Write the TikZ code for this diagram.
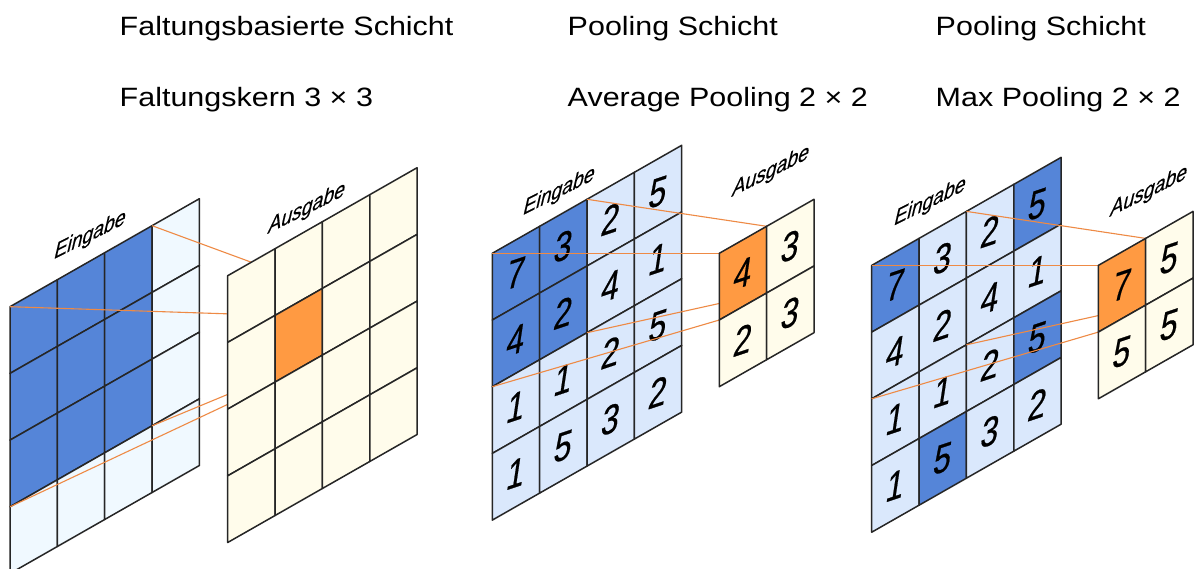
\documentclass[tikz,border=0pt]{standalone}
\usepackage{fontspec}
\setmainfont{Liberation Sans}
\newfontfamily\digitfont[FakeBold=0.6]{Liberation Sans}
\newfontfamily\labelfont[FakeBold=0.35]{Liberation Sans}
\definecolor{gridline}{HTML}{262626}
\definecolor{kernelblue}{HTML}{5585D8}
\definecolor{inpale}{HTML}{F0F9FF}
\definecolor{inlight}{HTML}{DAE8FC}
\definecolor{outcream}{HTML}{FFFCEB}
\definecolor{hotorange}{HTML}{FF9A42}
\definecolor{linkorange}{HTML}{EE8A45}
% cell geometry: width, height, rise per column
\def\cw{47.35}
\def\ch{66.7}
\def\cd{27}
% one skewed cell of a grid whose top-left corner is (#1,#2): column #3, row #4, fill #5
\newcommand\skewcell[5]{%
  \filldraw[gridcell, fill=#5] ({#1+(#3)*\cw},{#2+(#4)*\ch-(#3)*\cd})
    -- ++(\cw,-\cd) -- ++(0,\ch) -- ++(-\cw,\cd) -- cycle;}
% named corner point of a grid
\newcommand\gridpt[5]{\coordinate (#1) at ({#2+(#4)*\cw},{#3+(#5)*\ch-(#4)*\cd});}
% number in the centre of a cell
\newcommand\cellnum[6]{\node[digit] (#1) at ({#2+(#4+0.5)*\cw},{#3+(#5+0.5)*\ch-(#4+0.5)*\cd}) {#6};}
\tikzset{
  gridcell/.style={draw=gridline, line width=1.5pt, line join=round},
  link/.style={draw=linkorange, line width=1.1pt},
  title/.style={anchor=base west, inner sep=0pt, xscale=1.15, font=\fontsize{26.5}{31}\selectfont},
  layerlabel/.style={anchor=base west, inner sep=0pt, cm={0.9,0.45,0.26,1.12,(0,0)}, font=\labelfont\fontsize{21.5}{25}\selectfont},
  digit/.style={inner sep=0pt, cm={0.9,0.3,0.18,1.2,(0,0)}, font=\digitfont\fontsize{35}{40}\selectfont},
}
\begin{document}
\begin{tikzpicture}[x=1pt, y=-1pt]
\useasboundingbox (0,0) rectangle (1198,569);
\fill[white] (0,0) rectangle (1198,569);
\clip (0,0) rectangle (1198,569);

% ---------- titles ----------
\node[title] (t1) at (119.5,36) {Faltungsbasierte Schicht};
\node[title] (t2) at (119.5,106.5) {Faltungskern 3 × 3};
\node[title] (t3) at (567.5,36) {Pooling Schicht};
\node[title] (t4) at (567.5,106.5) {Average Pooling 2 × 2};
\node[title] (t5) at (935.5,36) {Pooling Schicht};
\node[title] (t6) at (935.5,106.5) {Max Pooling 2 × 2};

% ---------- convolution layer ----------
\def\ax{10}\def\ay{306.7}
\def\bx{227.7}\def\by{275.7}
\foreach \i in {0,...,3} \foreach \j in {0,...,3} {
  \pgfmathsetmacro\inwin{(\i<3 && \j<3) ? 1 : 0}
  \ifdim\inwin pt>0.5pt \skewcell{\ax}{\ay}{\i}{\j}{kernelblue}
  \else \skewcell{\ax}{\ay}{\i}{\j}{inpale}\fi
}
\gridpt{cA}{\ax}{\ay}{0}{0}
\gridpt{cB}{\ax}{\ay}{3}{0}
\gridpt{cC}{\ax}{\ay}{0}{3}
\gridpt{cD}{\ax}{\ay}{3}{3}
\gridpt{oA}{\bx}{\by}{1}{1}
\gridpt{oB}{\bx}{\by}{2}{1}
\gridpt{oC}{\bx}{\by}{1}{2}
\gridpt{oD}{\bx}{\by}{2}{2}
\draw[link] (cA) -- (oA);
\draw[link] (cB) -- (oB);
\draw[link] (cC) -- (oC);
\draw[link] (cD) -- (oD);
\foreach \i in {0,...,3} \foreach \j in {0,...,3} {
  \pgfmathsetmacro\hot{(\i==1 && \j==1) ? 1 : 0}
  \ifdim\hot pt>0.5pt \skewcell{\bx}{\by}{\i}{\j}{hotorange}
  \else \skewcell{\bx}{\by}{\i}{\j}{outcream}\fi
}
\node[layerlabel] (in1) at (53,259.5) {Eingabe};
\node[layerlabel] (out1) at (267,234) {Ausgabe};

% ---------- average pooling ----------
\def\ax{492.3}\def\ay{253.3}
\def\bx{719.3}\def\by{253.3}
\foreach \i in {0,...,3} \foreach \j in {0,...,3} {
  \pgfmathsetmacro\inwin{(\i<2 && \j<2) ? 1 : 0}
  \ifdim\inwin pt>0.5pt \skewcell{\ax}{\ay}{\i}{\j}{kernelblue}
  \else \skewcell{\ax}{\ay}{\i}{\j}{inlight}\fi
}
\foreach \v [count=\k from 0] in {7,3,2,5,4,2,4,1,1,1,2,5,1,5,3,2} {
  \pgfmathtruncatemacro\i{mod(\k,4)}
  \pgfmathtruncatemacro\j{div(\k,4)}
  \cellnum{avg-\j-\i}{\ax}{\ay}{\i}{\j}{\v}
}
\gridpt{pA}{\ax}{\ay}{0}{0}
\gridpt{pB}{\ax}{\ay}{2}{0}
\gridpt{pC}{\ax}{\ay}{0}{2}
\gridpt{pD}{\ax}{\ay}{2}{2}
\gridpt{qA}{\bx}{\by}{0}{0}
\gridpt{qB}{\bx}{\by}{1}{0}
\gridpt{qC}{\bx}{\by}{0}{1}
\gridpt{qD}{\bx}{\by}{1}{1}
\draw[link] (pA) -- (qA);
\draw[link] (pB) -- (qB);
\draw[link] (pC) -- (qC);
\draw[link] (pD) -- (qD);
\skewcell{\bx}{\by}{0}{0}{hotorange}
\skewcell{\bx}{\by}{1}{0}{outcream}
\skewcell{\bx}{\by}{0}{1}{outcream}
\skewcell{\bx}{\by}{1}{1}{outcream}
\cellnum{avgout-0-0}{\bx}{\by}{0}{0}{4}
\cellnum{avgout-0-1}{\bx}{\by}{1}{0}{3}
\cellnum{avgout-1-0}{\bx}{\by}{0}{1}{2}
\cellnum{avgout-1-1}{\bx}{\by}{1}{1}{3}
\node[layerlabel] (in2) at (522,215.5) {Eingabe};
\node[layerlabel] (out2) at (731,197) {Ausgabe};

% ---------- max pooling ----------
\def\ax{871.7}\def\ay{265.4}
\def\bx{1098.3}\def\by{265.4}
\foreach \i in {0,...,3} \foreach \j in {0,...,3} {
  \pgfmathsetmacro\isMax{((\i==0 && \j==0) || (\i==3 && \j==0) || (\i==3 && \j==2) || (\i==1 && \j==3)) ? 1 : 0}
  \ifdim\isMax pt>0.5pt \skewcell{\ax}{\ay}{\i}{\j}{kernelblue}
  \else \skewcell{\ax}{\ay}{\i}{\j}{inlight}\fi
}
\foreach \v [count=\k from 0] in {7,3,2,5,4,2,4,1,1,1,2,5,1,5,3,2} {
  \pgfmathtruncatemacro\i{mod(\k,4)}
  \pgfmathtruncatemacro\j{div(\k,4)}
  \cellnum{max-\j-\i}{\ax}{\ay}{\i}{\j}{\v}
}
\gridpt{rA}{\ax}{\ay}{0}{0}
\gridpt{rB}{\ax}{\ay}{2}{0}
\gridpt{rC}{\ax}{\ay}{0}{2}
\gridpt{rD}{\ax}{\ay}{2}{2}
\gridpt{sA}{\bx}{\by}{0}{0}
\gridpt{sB}{\bx}{\by}{1}{0}
\gridpt{sC}{\bx}{\by}{0}{1}
\gridpt{sD}{\bx}{\by}{1}{1}
\draw[link] (rA) -- (sA);
\draw[link] (rB) -- (sB);
\draw[link] (rC) -- (sC);
\draw[link] (rD) -- (sD);
\skewcell{\bx}{\by}{0}{0}{hotorange}
\skewcell{\bx}{\by}{1}{0}{outcream}
\skewcell{\bx}{\by}{0}{1}{outcream}
\skewcell{\bx}{\by}{1}{1}{outcream}
\cellnum{maxout-0-0}{\bx}{\by}{0}{0}{7}
\cellnum{maxout-0-1}{\bx}{\by}{1}{0}{5}
\cellnum{maxout-1-0}{\bx}{\by}{0}{1}{5}
\cellnum{maxout-1-1}{\bx}{\by}{1}{1}{5}
\node[layerlabel] (in3) at (893,226) {Eingabe};
\node[layerlabel] (out3) at (1109,217) {Ausgabe};
\end{tikzpicture}
\end{document}
